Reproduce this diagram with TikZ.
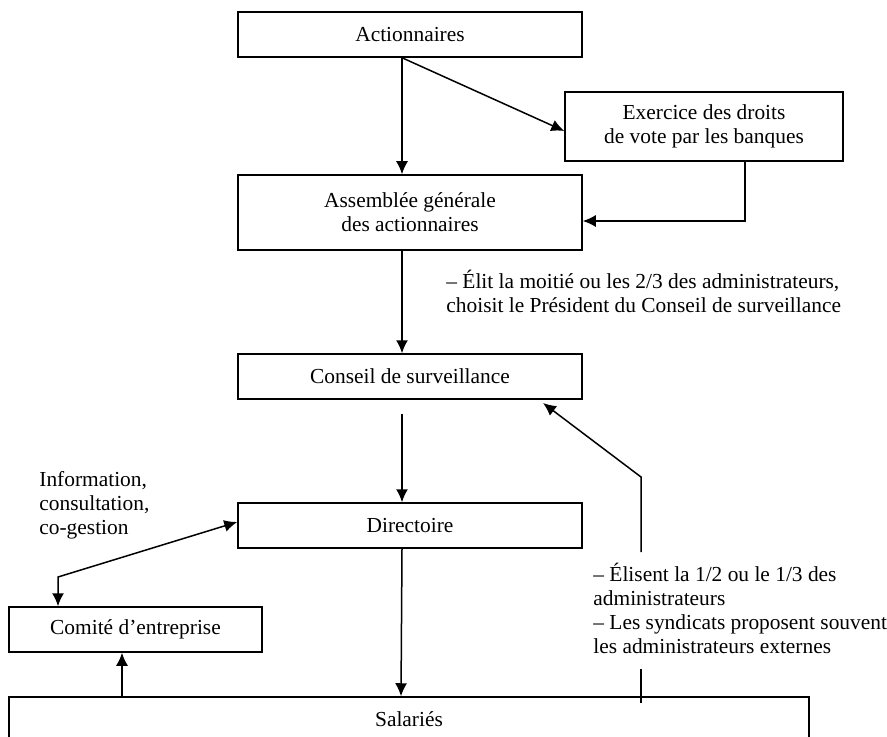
\documentclass[tikz,border=0pt]{standalone}
\usepackage{fontspec}
\setmainfont{Liberation Serif}
\usetikzlibrary{arrows.meta}

\begin{document}
\begin{tikzpicture}[x=0.5pt,y=-0.5pt,
  font=\fontsize{10.7}{12}\selectfont,
  cadre/.style={draw, line width=0.75pt, inner sep=0pt, align=center},
  texte/.style={anchor=west, align=left, inner sep=0pt},
  fl/.style={-{Latex[length=6.5pt,width=6pt]}, line width=0.75pt},
  fldouble/.style={{Latex[length=6.5pt,width=6pt]}-{Latex[length=6.5pt,width=6pt]}, line width=0.75pt}]
 \path[use as bounding box] (0,0) rectangle (887,737);

\node[cadre, minimum width=172pt, minimum height=22.5pt] (act) at (410,34.5) {Actionnaires};
\node[cadre, minimum width=139pt, minimum height=34.5pt] (vote) at (704,126.5) {Exercice des droits\\de vote par les banques};
\node[cadre, minimum width=172pt, minimum height=37.5pt] (ag) at (410,212.5) {Assemblée générale\\des actionnaires};
\node[cadre, minimum width=172pt, minimum height=22.5pt] (cs) at (410,376.5) {Conseil de surveillance};
\node[cadre, minimum width=172pt, minimum height=22.5pt] (dir) at (410,525.5) {Directoire};
\node[cadre, minimum width=126.5pt, minimum height=22.5pt] (ce) at (135.5,629.5) {Comité d’entreprise};
\node[cadre, minimum width=400pt, minimum height=22pt] (sal) at (409,719) {Salariés};

\node[texte] (elit) at (446,291) {– Élit la moitié ou les 2/3 des administrateurs,\\choisit le Président du Conseil de surveillance};
\node[texte] (info) at (39,505) {Information,\\consultation,\\co-gestion};
\node[texte] (elisent) at (593,608) {– Élisent la 1/2 ou le 1/3 des\\administrateurs\\– Les syndicats proposent souvent\\les administrateurs externes};

\coordinate (pied) at ([xshift=-6.75pt]ce.south);
\coordinate (coude) at (58,577);
\coordinate (bas) at (641,703);
\coordinate (milieu) at (641,669);
\coordinate (haut) at (641,552);
\coordinate (coin) at (641,477);
\coordinate (pointe) at (543,403);

% axe principal
\draw[fl] ([xshift=-4pt]act.south) -- ([xshift=-4pt]ag.north);
\draw[fl] ([xshift=-4pt]act.south) -- ([yshift=-2.25pt]vote.west);
\draw[fl] ([xshift=20.5pt]vote.south) |- ([yshift=-4.25pt]ag.east);
\draw[fl] ([xshift=-4pt]ag.south) -- ([xshift=-4pt]cs.north);
\draw[fl] ([xshift=-4pt,yshift=-7pt]cs.south) -- ([xshift=-4pt]dir.north);
\draw[fl] ([xshift=-4pt]dir.south) -- ([xshift=-4pt]sal.north);

% salaries
\draw[fl] (pied |- sal.north) -- (pied);
\draw[fldouble] ([yshift=1.75pt]dir.west) -- (coude) -- (coude |- ce.north);
\draw[line width=0.75pt] (bas) -- (milieu);
\draw[fl] (haut) -- (coin) -- (pointe);

\end{tikzpicture}
\end{document}
